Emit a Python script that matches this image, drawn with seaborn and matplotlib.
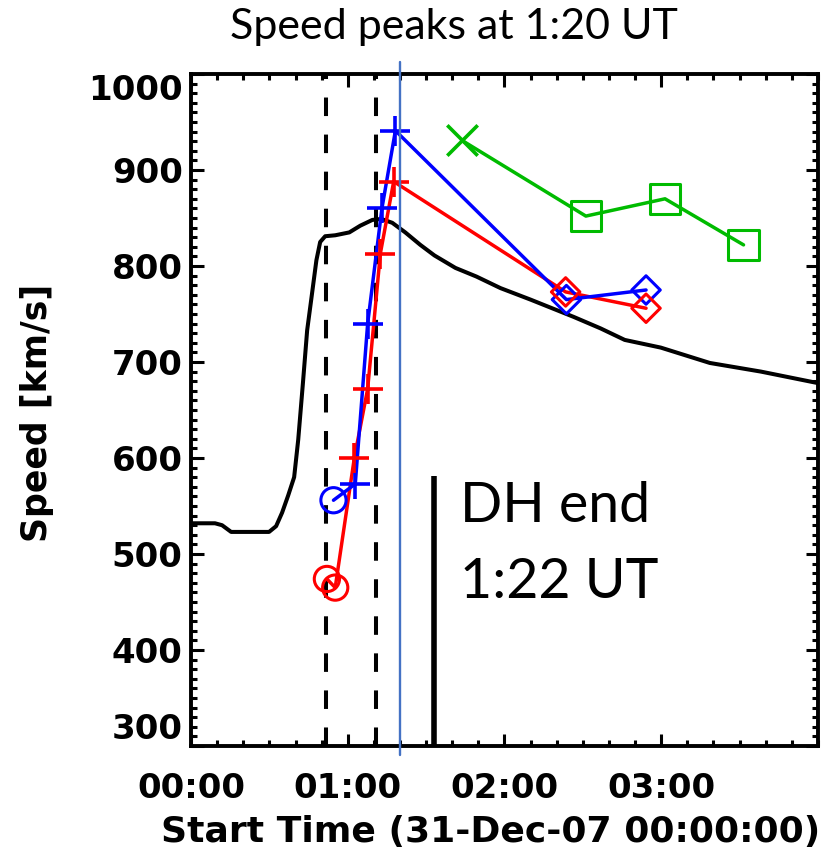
import numpy as np
import pandas as pd
import matplotlib
matplotlib.use("Agg")
import matplotlib.pyplot as plt
import seaborn as sns
from matplotlib.ticker import MultipleLocator

# ---------------- data (hours after 00:00 UT on 31-Dec-07, km/s) ----------------
bg_time = [0.0, 0.153, 0.198, 0.256, 0.498, 0.543, 0.581, 0.62, 0.658, 0.684, 0.714,
           0.741, 0.767, 0.80, 0.824, 0.856, 0.92, 1.01, 1.08, 1.157, 1.214, 1.284,
           1.367, 1.463, 1.553, 1.687, 1.821, 1.974, 2.166, 2.441, 2.613, 2.767,
           2.997, 3.31, 3.636, 4.0]
bg_speed = [532, 532, 530, 523, 523, 529, 543, 561, 580, 619, 678,
            733, 765, 806, 825, 831, 832, 835, 842, 848, 849, 845,
            835, 822, 811, 798, 789, 777, 765, 747, 735, 723,
            715, 699, 690, 678]

red_time = [0.867, 0.920, 1.042, 1.127, 1.208, 1.293, 2.390, 2.903]
red_speed = [474, 465, 600, 672, 813, 888, 773, 756]
red_marker = ["circle", "circle", "plus", "plus", "plus", "plus", "diamond", "diamond"]

blue_time = [0.909, 1.048, 1.127, 1.218, 1.304, 2.395, 2.903]
blue_speed = [556, 573, 740, 860, 941, 765, 775]
blue_marker = ["circle", "plus", "plus", "plus", "plus", "diamond", "diamond"]

green_time = [1.727, 2.519, 3.024, 3.525]
green_speed = [931, 852, 870, 822]
green_marker = ["cross", "square", "square", "square"]

dashed_times = [0.86, 1.18]
peak_time = 80 / 60
dh_end_time = 1.55
dh_end_speeds = [300, 581]
peak_line_speeds = [1013, 291]

x_ticks = [0, 1, 2, 3]
x_ticklabels = ["00:00", "01:00", "02:00", "03:00"]
y_ticks = [300, 400, 500, 600, 700, 800, 900, 1000]

title_text = "Speed peaks at 1:20 UT"

# ---------------- figure ----------------
sns.set_theme(style="ticks")
plt.rcParams["font.family"] = ["DejaVu Sans"]
plt.rcParams["text.color"] = "black"
plt.rcParams["axes.labelcolor"] = "black"
plt.rcParams["xtick.color"] = "black"
plt.rcParams["ytick.color"] = "black"

fig = plt.figure(figsize=(8.39, 8.59), dpi=100)
ax = fig.add_axes([191 / 839, 113 / 859, 627 / 839, 672 / 859])

series = pd.concat([
    pd.DataFrame({"t": red_time, "v": red_speed, "m": red_marker, "s": "red"}),
    pd.DataFrame({"t": blue_time, "v": blue_speed, "m": blue_marker, "s": "blue"}),
    pd.DataFrame({"t": green_time, "v": green_speed, "m": green_marker, "s": "green"}),
], ignore_index=True)
colors = {"red": "#ff0000", "blue": "#0000ff", "green": "#00bb00"}

bg = pd.DataFrame({"t": bg_time, "v": bg_speed})
sns.lineplot(data=bg, x="t", y="v", color="black", lw=2.9, sort=False,
             estimator=None, ax=ax, zorder=3)

# vertical reference lines
for t in dashed_times:
    ax.axvline(t, color="black", lw=2.9, dashes=(4.6, 4.6), zorder=2)
ax.plot([dh_end_time, dh_end_time], dh_end_speeds, color="black", lw=4.0,
        solid_capstyle="butt", zorder=2)
ax.plot([peak_time, peak_time], peak_line_speeds, color="#4472C4", lw=1.7,
        clip_on=False, zorder=6)

sns.lineplot(data=series, x="t", y="v", hue="s", palette=colors, sort=False,
             estimator=None, lw=2.5, legend=False, ax=ax, zorder=4)

marker_map = {"circle": ("o", 330), "plus": ("+", 480), "diamond": ("D", 210),
              "square": ("s", 470), "cross": ("x", 480)}
for (sname, mname), sub in series.groupby(["s", "m"]):
    mk, size = marker_map[mname]
    c = colors[sname]
    if mname in ("plus", "cross"):
        sns.scatterplot(data=sub, x="t", y="v", marker=mk, s=size, color=c,
                        linewidth=2.6, legend=False, ax=ax, zorder=5)
    else:
        sns.scatterplot(data=sub, x="t", y="v", marker=mk, s=size,
                        facecolors="none", edgecolor=c, linewidth=2.2,
                        legend=False, ax=ax, zorder=5)

ax.set_xlim(0, 4)
ax.set_ylim(300, 1000)
ax.set_xticks(x_ticks)
ax.set_xticklabels(x_ticklabels)
ax.set_yticks(y_ticks)
ax.xaxis.set_minor_locator(MultipleLocator(1 / 6))
ax.yaxis.set_minor_locator(MultipleLocator(10))

ax.tick_params(which="both", direction="in", top=True, right=True,
               width=2.2, colors="black")
ax.tick_params(which="major", length=9)
ax.tick_params(which="minor", length=4.5)
ax.tick_params(axis="x", which="major", pad=19)
ax.tick_params(axis="y", which="major", pad=6)
for lab in ax.get_xticklabels() + ax.get_yticklabels():
    lab.set_fontsize(24.5)
    lab.set_fontweight("bold")
    lab.set_color("black")
yt = ax.yaxis.get_major_ticks()
yt[0].label1.set_va("bottom")
yt[-1].label1.set_va("top")
for sp in ax.spines.values():
    sp.set_linewidth(2.8)
    sp.set_color("black")

ax.set_xlabel("Start Time (31-Dec-07 00:00:00)", fontsize=26, fontweight="bold",
              color="black")
ax.set_ylabel("Speed [km/s]", fontsize=25, fontweight="bold", color="black")
ax.xaxis.set_label_coords((491 - 191) / 627, (746 - 832) / 672)
ax.xaxis.label.set_va("center")
ax.yaxis.set_label_coords((37 - 191) / 627, (746 - 413) / 672)
ax.yaxis.label.set_va("center")

fig.text(454 / 839, 1 - 27 / 859, title_text, ha="center", va="center",
         fontsize=31, color="black", family=["Lato", "DejaVu Sans"])
ax.text((460 - 191) / 627, (746 - 522) / 672, "DH end", transform=ax.transAxes,
        ha="left", va="baseline", fontsize=40, color="black",
        family=["Lato", "DejaVu Sans"])
ax.text((460 - 191) / 627, (746 - 598) / 672, "1:22 UT", transform=ax.transAxes,
        ha="left", va="baseline", fontsize=40, color="black",
        family=["Lato", "DejaVu Sans"])

fig.savefig("out.png", dpi=100)
